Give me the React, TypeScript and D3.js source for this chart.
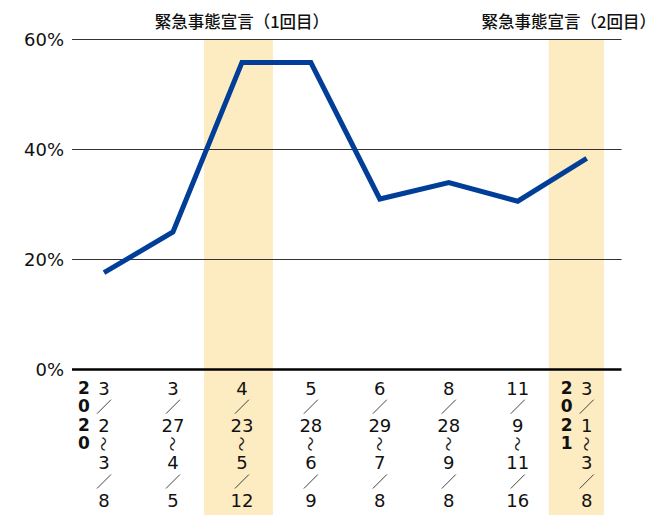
import React from "react";
import * as d3 from "d3";

const periods = ["3/2~3/8", "3/27~4/5", "4/23~5/12", "5/28~6/9", "6/29~7/8", "8/28~9/8", "11/9~11/16", "3/1~3/8"];
const years = ["2020", "", "", "", "", "", "", "2021"];
const values = [17.6, 25.0, 55.8, 55.8, 31.0, 34.0, 30.6, 38.4];
const yTicks = [0, 20, 40, 60];
const highlightIdx = [2, 7];
const highlightWidth = [1.0, 0.8];
const highlightTitles = ["緊急事態宣言（1回目）", "緊急事態宣言（2回目）"];

const W = 659;
const H = 515;
const FONT = "'DejaVu Sans', 'Noto Sans CJK JP', sans-serif";
const JFONT = "'Noto Sans CJK JP', sans-serif";

export default function App() {
  const x = d3.scalePoint<number>().domain(d3.range(periods.length)).range([104, 586.7]);
  const step = x.step();
  const y = d3.scaleLinear().domain([0, 60]).range([369.5, 39.5]);
  const line = d3
    .line<number>()
    .x((_, i) => x(i) as number)
    .y((d) => y(d));

  const rowY = (r: number) => 388 + r * 18.7;

  const renderLabel = (p: string, i: number) => {
    const cx = x(i) as number;
    const [a, b] = p.split("~");
    const [m1, d1] = a.split("/");
    const [m2, d2] = b.split("/");
    const rows: { t: string; kind: string }[] = [
      { t: m1, kind: "n" },
      { t: "／", kind: "s" },
      { t: d1, kind: "n" },
      { t: "～", kind: "w" },
      { t: m2, kind: "n" },
      { t: "／", kind: "s" },
      { t: d2, kind: "n" },
    ];
    const yr = years[i];
    return (
      <g key={"lab" + i}>
        {rows.map((r, k) =>
          r.kind === "w" ? (
            <text
              key={k}
              x={0}
              y={0}
              textAnchor="middle"
              dominantBaseline="central"
              fontSize={15}
              fontFamily={JFONT}
              fill="#222"
              transform={`translate(${cx + 0.5},${rowY(k)}) rotate(90)`}
            >
              {r.t}
            </text>
          ) : r.kind === "s" ? (
            <line
              key={k}
              x1={cx - 7}
              x2={cx + 7}
              y1={rowY(k) + 7}
              y2={rowY(k) - 7}
              stroke="#444"
              strokeWidth={1}
            />
          ) : (
            <text
              key={k}
              x={cx}
              y={rowY(k)}
              textAnchor="middle"
              dominantBaseline="central"
              fontSize={18}
              fill="#111"
            >
              {r.t}
            </text>
          )
        )}
        {yr &&
          yr.split("").map((c, k) => (
            <text
              key={"y" + k}
              x={cx - 20}
              y={rowY(0) + k * 18.4}
              textAnchor="middle"
              dominantBaseline="central"
              fontSize={17}
              fontWeight={700}
              fill="#111"
            >
              {c}
            </text>
          ))}
      </g>
    );
  };

  return (
    <svg
      width={W}
      height={H}
      style={{ position: "absolute", left: 0, top: 0, background: "#fff" }}
      fontFamily={FONT}
    >
      {highlightIdx.map((idx, k) => (
        <rect
          key={"hl" + k}
          x={(x(idx) as number) - 0.55 * step}
          y={y(60)}
          width={step * highlightWidth[k]}
          height={H - y(60)}
          fill="#FDEBC1"
        />
      ))}
      {yTicks.map((t) => (
        <g key={"g" + t}>
          <line
            x1={72}
            x2={621.5}
            y1={y(t)}
            y2={y(t)}
            stroke={t === 0 ? "#000" : "#333"}
            strokeWidth={t === 0 ? 2.5 : 1}
          />
          <text x={64} y={y(t)} textAnchor="end" dominantBaseline="central" fontSize={18} fill="#111">
            {t}%
          </text>
        </g>
      ))}
      <path
        d={line(values) || ""}
        fill="none"
        stroke="#003E98"
        strokeWidth={5}
        strokeLinejoin="miter"
        strokeLinecap="butt"
      />
      {periods.map(renderLabel)}
      <text x={x(highlightIdx[0]) as number} y={21} textAnchor="middle" dominantBaseline="central" fontSize={16.5} fontWeight={500} fontFamily={JFONT} fill="#111">
        {highlightTitles[0]}
      </text>
      <text x={656} y={21} textAnchor="end" dominantBaseline="central" fontSize={16.5} fontWeight={500} fontFamily={JFONT} fill="#111">
        {highlightTitles[1]}
      </text>
    </svg>
  );
}
